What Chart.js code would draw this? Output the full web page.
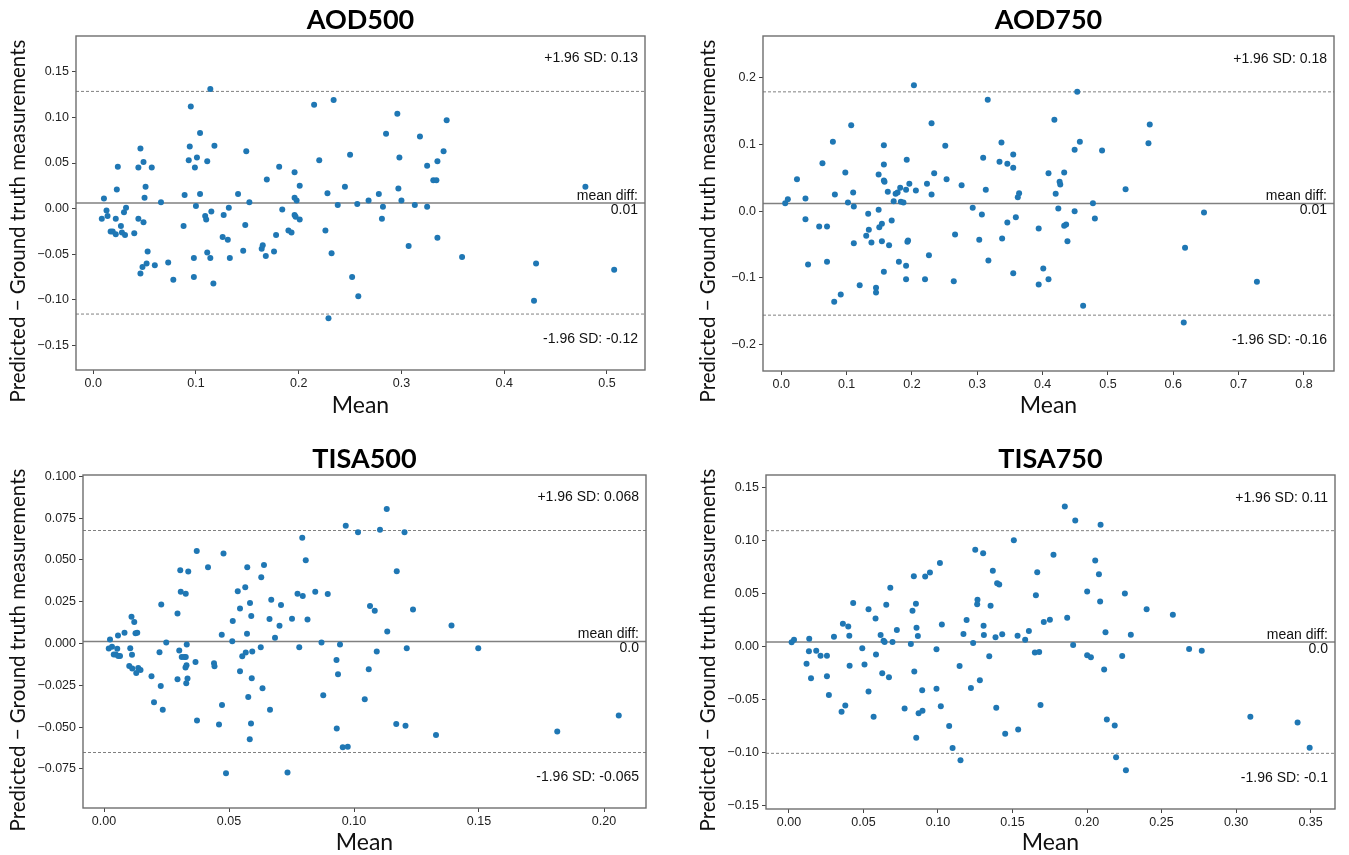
<!DOCTYPE html>
<html>
<head>
<meta charset="utf-8">
<title>Bland-Altman plots</title>
<script src="https://cdn.jsdelivr.net/npm/chart.js@4.4.1/dist/chart.umd.min.js"></script>
<style>
  html, body { margin: 0; padding: 0; background: #fff; overflow: hidden; }
  #fig { position: relative; width: 1349px; height: 855px; overflow: hidden; }
  #fig canvas { position: absolute; }
</style>
</head>
<body>
<div id="fig">
  <canvas id="aod500"></canvas>
  <canvas id="aod750"></canvas>
  <canvas id="tisa500"></canvas>
  <canvas id="tisa750"></canvas>
</div>
<script>
// ---- data ----
// AOD500
const aod500Mean = [0.0084,0.0105,0.013,0.014,0.017,0.019,0.022,0.022,0.024,0.023,
  0.027,0.028,0.030,0.031,0.032,0.040,0.044,0.044,0.046,0.049,
  0.049,0.050,0.051,0.046,0.048,0.052,0.053,0.057,0.060,0.066,
  0.073,0.078,0.088,0.089,0.093,0.094,0.095,0.098,0.098,0.099,
  0.100,0.101,0.104,0.104,0.109,0.110,0.111,0.111,0.114,0.114,
  0.115,0.117,0.118,0.126,0.127,0.131,0.132,0.133,0.141,0.146,
  0.148,0.149,0.152,0.164,0.165,0.168,0.169,0.176,0.178,0.181,
  0.184,0.190,0.193,0.196,0.196,0.196,0.197,0.198,0.201,0.201,
  0.215,0.220,0.226,0.228,0.229,0.232,0.234,0.238,0.245,0.250,
  0.252,0.257,0.258,0.268,0.278,0.281,0.282,0.285,0.296,0.297,
  0.298,0.300,0.307,0.313,0.318,0.325,0.325,0.331,0.334,0.335,
  0.335,0.341,0.344,0.359,0.429,0.431,0.479,0.507];
const aod500Diff = [-0.011,0.011,-0.002,-0.008,-0.025,-0.025,-0.011,-0.028,0.046,0.021,
  -0.019,-0.026,-0.004,-0.029,0.001,-0.027,-0.011,0.045,0.066,0.051,
  -0.015,0.012,0.024,-0.071,-0.064,-0.060,-0.047,0.045,-0.062,0.007,
  -0.059,-0.078,-0.019,0.015,0.053,0.068,0.112,-0.075,-0.054,0.045,
  0.003,0.056,0.016,0.083,-0.008,-0.012,0.052,-0.048,0.131,-0.054,
  -0.003,-0.082,0.069,-0.031,-0.007,-0.034,0.001,-0.054,0.016,-0.046,
  -0.018,0.063,0.007,-0.044,-0.040,-0.052,0.032,-0.047,-0.029,0.046,
  -0.001,-0.024,-0.026,0.040,0.012,-0.007,-0.009,0.009,-0.012,0.025,
  0.114,0.053,-0.024,0.017,-0.120,-0.049,0.119,0.004,0.024,0.059,
  -0.075,0.005,-0.096,0.009,0.016,-0.011,0.002,0.082,0.104,0.022,
  0.056,0.009,-0.041,0.004,0.079,0.047,0.002,0.031,0.031,0.052,
  -0.032,0.063,0.097,-0.053,-0.101,-0.060,0.024,-0.067];
const aod500Lines = [0.1285, 0.0062, -0.1155];      // +1.96 SD, mean diff, -1.96 SD
const aod500Texts = ['+1.96 SD: 0.13', '0.01', '-1.96 SD: -0.12'];
const aod500XTicks = [0, 0.1, 0.2, 0.3, 0.4, 0.5];
const aod500XLabels = ['0.0', '0.1', '0.2', '0.3', '0.4', '0.5'];
const aod500YTicks = [-0.15, -0.10, -0.05, 0, 0.05, 0.10, 0.15];
const aod500YLabels = ['\u22120.15', '\u22120.10', '\u22120.05', '0.00', '0.05', '0.10', '0.15'];

// AOD750
const aod750Mean = [0.006,0.010,0.024,0.037,0.037,0.041,0.058,0.063,0.070,0.070,
  0.079,0.081,0.082,0.091,0.098,0.102,0.107,0.110,0.111,0.111,
  0.120,0.133,0.134,0.130,0.138,0.145,0.145,0.149,0.149,0.150,
  0.154,0.154,0.157,0.157,0.157,0.158,0.157,0.163,0.165,0.169,
  0.172,0.175,0.178,0.180,0.182,0.183,0.187,0.191,0.191,0.191,
  0.192,0.193,0.194,0.196,0.203,0.206,0.220,0.223,0.226,0.230,
  0.230,0.234,0.251,0.253,0.264,0.266,0.276,0.293,0.303,0.307,
  0.309,0.313,0.316,0.317,0.334,0.337,0.338,0.346,0.346,0.355,
  0.355,0.355,0.359,0.362,0.364,0.394,0.394,0.401,0.409,0.409,
  0.418,0.420,0.424,0.426,0.427,0.433,0.433,0.436,0.438,0.449,
  0.449,0.453,0.457,0.462,0.477,0.480,0.491,0.527,0.562,0.564,
  0.616,0.618,0.647,0.728];
const aod750Diff = [0.012,0.018,0.048,0.019,-0.012,-0.080,-0.023,0.072,-0.023,-0.076,
  0.104,-0.136,0.025,-0.125,0.058,0.013,0.129,0.028,0.007,-0.048,
  -0.111,-0.004,-0.028,-0.037,-0.047,-0.115,-0.122,0.055,0.002,-0.024,
  -0.019,-0.045,0.099,0.070,0.046,0.044,-0.091,0.029,-0.051,-0.014,
  0.015,0.026,0.028,-0.076,0.035,0.014,0.013,-0.102,-0.082,0.032,
  0.077,-0.046,-0.044,0.041,0.189,0.031,-0.102,0.041,-0.066,0.025,
  0.132,0.057,0.098,0.048,-0.105,-0.035,0.039,0.005,-0.043,-0.005,
  0.080,0.032,0.167,-0.074,0.074,0.103,-0.041,0.071,-0.017,0.085,
  0.065,-0.093,-0.009,0.021,0.027,-0.026,-0.110,-0.086,0.057,-0.102,
  0.137,0.026,0.004,0.044,0.040,0.058,-0.022,-0.020,-0.045,0.092,
  0.000,0.179,0.104,-0.142,0.012,-0.011,0.091,0.033,0.102,0.130,
  -0.167,-0.055,-0.002,-0.106];
const aod750Lines = [0.179, 0.0115, -0.156];
const aod750Texts = ['+1.96 SD: 0.18', '0.01', '-1.96 SD: -0.16'];
const aod750XTicks = [0, 0.1, 0.2, 0.3, 0.4, 0.5, 0.6, 0.7, 0.8];
const aod750XLabels = ['0.0', '0.1', '0.2', '0.3', '0.4', '0.5', '0.6', '0.7', '0.8'];
const aod750YTicks = [-0.2, -0.1, 0, 0.1, 0.2];
const aod750YLabels = ['\u22120.2', '\u22120.1', '0.0', '0.1', '0.2'];

// TISA500
const tisa500Mean = [0.0019,0.0024,0.0032,0.0039,0.0047,0.0053,0.0056,0.0057,0.0064,0.0082,
  0.0101,0.0105,0.0110,0.0112,0.0113,0.0121,0.0126,0.0133,0.0129,0.0137,
  0.0146,0.0190,0.0200,0.0222,0.0227,0.0229,0.0235,0.0249,0.0294,0.0294,
  0.0301,0.0305,0.0307,0.0311,0.0321,0.0327,0.0327,0.0331,0.0330,0.0326,
  0.0334,0.0329,0.0337,0.0366,0.0371,0.0372,0.0416,0.0440,0.0442,0.0460,
  0.0471,0.0472,0.0478,0.0488,0.0513,0.0515,0.0535,0.0544,0.0544,0.0553,
  0.0567,0.0565,0.0572,0.0573,0.0577,0.0584,0.0589,0.0591,0.0588,0.0583,
  0.0593,0.0627,0.0629,0.0634,0.0640,0.0662,0.0664,0.0669,0.0684,0.0702,
  0.0708,0.0734,0.0752,0.0774,0.0781,0.0793,0.0795,0.0807,0.0814,0.0845,
  0.0870,0.0877,0.0895,0.0930,0.0931,0.0936,0.0944,0.0955,0.0975,0.0967,
  0.1016,0.1064,0.1083,0.1059,0.1043,0.1091,0.1104,0.1131,0.1133,0.1171,
  0.1169,0.1202,0.1206,0.1211,0.1236,0.1328,0.1390,0.1497,0.1813,0.2059];
const tisa500Diff = [-0.0030,0.0024,-0.0020,-0.0066,-0.0066,-0.0032,0.0048,-0.0074,-0.0074,0.0064,
  -0.0134,-0.0028,0.0160,-0.0068,-0.0150,0.0128,0.0062,0.0064,-0.0176,-0.0146,
  -0.0158,-0.0196,-0.0352,-0.0052,-0.0254,0.0234,-0.0396,0.0006,0.0180,-0.0214,
  -0.0042,0.0438,0.0310,-0.0080,-0.0080,0.0298,-0.0080,-0.0006,-0.0130,-0.0144,
  -0.0210,-0.0238,0.0430,-0.0110,0.0554,-0.0460,0.0456,-0.0118,-0.0136,-0.0484,
  0.0052,-0.0368,0.0538,-0.0776,0.0014,0.0134,0.0312,0.0210,-0.0166,-0.0076,
  -0.0054,0.0336,0.0058,0.0456,-0.0320,0.0242,0.0164,-0.0208,-0.0478,-0.0572,
  -0.0048,-0.0022,0.0396,-0.0268,0.0470,0.0146,-0.0396,0.0262,0.0034,0.0106,
  0.0230,-0.0772,0.0148,0.0298,-0.0022,0.0632,0.0284,0.0498,0.0144,0.0310,
  0.0006,-0.0310,0.0296,-0.0098,-0.0508,-0.0184,-0.0006,-0.0620,-0.0618,0.0704,
  0.0666,0.0224,0.0196,-0.0154,-0.0334,-0.0048,0.0680,0.0804,0.0072,0.0432,
  -0.0482,0.0666,-0.0492,-0.0028,0.0204,-0.0548,0.0108,-0.0028,-0.0526,-0.0430];
const tisa500Lines = [0.0676, 0.0012, -0.0652];
const tisa500Texts = ['+1.96 SD: 0.068', '0.0', '-1.96 SD: -0.065'];
const tisa500XTicks = [0, 0.05, 0.10, 0.15, 0.20];
const tisa500XLabels = ['0.00', '0.05', '0.10', '0.15', '0.20'];
const tisa500YTicks = [-0.075, -0.05, -0.025, 0, 0.025, 0.05, 0.075, 0.1];
const tisa500YLabels = ['\u22120.075', '\u22120.050', '\u22120.025', '0.000', '0.025', '0.050', '0.075', '0.100'];

// TISA750
const tisa750Mean = [0.0018,0.0034,0.0118,0.0134,0.0136,0.0148,0.0183,0.0212,0.0255,0.0255,
  0.0268,0.0302,0.0353,0.0362,0.0378,0.0398,0.0405,0.0407,0.0431,0.0492,
  0.0507,0.0534,0.0534,0.0568,0.0581,0.0584,0.0615,0.0635,0.0642,0.0626,
  0.0653,0.0671,0.0680,0.0695,0.0724,0.0776,0.0818,0.0829,0.0838,0.0841,
  0.0852,0.0856,0.0865,0.0854,0.0870,0.0894,0.0896,0.0914,0.0946,0.0990,
  0.0990,0.1013,0.1019,0.1026,0.1075,0.1098,0.1145,0.1151,0.1171,0.1192,
  0.1221,0.1236,0.1250,0.1263,0.1265,0.1281,0.1303,0.1306,0.1308,0.1344,
  0.1353,0.1368,0.1386,0.1391,0.1397,0.1411,0.1431,0.1451,0.1509,0.1534,
  0.1538,0.1585,0.1610,0.1650,0.1657,0.1666,0.1679,0.1688,0.1710,
  0.1751,0.1775,0.1851,0.1867,0.1907,0.1921,0.2001,0.2001,0.2026,0.2055,
  0.2080,0.2091,0.2088,0.2115,0.2124,0.2133,0.2186,0.2195,0.2236,0.2254,
  0.2261,0.2294,0.2400,0.2576,0.2685,0.2770,0.3096,0.3413,0.3494];
const tisa750Diff = [0.0041,0.0066,-0.0160,-0.0044,0.0075,-0.0298,-0.0038,-0.0085,-0.0085,-0.0279,
  -0.0455,0.0094,-0.0614,0.0216,-0.0555,0.0191,0.0103,-0.0179,0.0411,-0.0016,
  -0.0169,0.0354,-0.0423,-0.0661,0.0266,-0.0075,0.0110,0.0056,0.0044,-0.0251,
  0.0395,-0.0288,0.0555,0.0044,0.0157,-0.0583,0.0025,0.0339,0.0665,-0.0235,
  0.0404,0.0179,0.0100,-0.0859,-0.0627,-0.0411,-0.0605,0.0661,0.0699,-0.0025,
  -0.0398,0.0790,-0.0561,0.0210,-0.0749,-0.0956,-0.0182,-0.1072,0.0119,0.0251,
  -0.0389,0.0034,0.0915,0.0401,0.0442,-0.0317,0.0881,0.0197,0.0110,-0.0091,
  0.0386,0.0715,0.0088,-0.0577,0.0599,0.0586,0.0116,-0.0821,0.1003,0.0103,
  -0.0781,0.0066,0.0147,-0.0056,0.0486,0.0702,-0.0050,-0.0549,0.0232,
  0.0254,0.0868,0.1323,0.0273,0.0016,0.1191,0.0520,-0.0082,-0.0100,0.0812,
  0.0683,0.1150,0.0426,-0.0216,0.0135,-0.0687,-0.0743,-0.1044,-0.0088,0.0502,
  -0.1166,0.0113,0.0354,0.0301,-0.0022,-0.0038,-0.0661,-0.0715,-0.0953];
const tisa750Lines = [0.1094, 0.0044, -0.1006];
const tisa750Texts = ['+1.96 SD: 0.11', '0.0', '-1.96 SD: -0.1'];
const tisa750XTicks = [0, 0.05, 0.10, 0.15, 0.20, 0.25, 0.30, 0.35];
const tisa750XLabels = ['0.00', '0.05', '0.10', '0.15', '0.20', '0.25', '0.30', '0.35'];
const tisa750YTicks = [-0.15, -0.10, -0.05, 0, 0.05, 0.10, 0.15];
const tisa750YLabels = ['\u22120.15', '\u22120.10', '\u22120.05', '0.00', '0.05', '0.10', '0.15'];

// ---- drawing ----
const tickFont = { family: '"Liberation Sans", Arial, sans-serif', size: 12.5 };
const xTitleSize = 23;
const yTitleText = 'Predicted \u2212 Ground truth measurements';

function blandAltman(id, p) {
  const canvas = document.getElementById(id);
  const [cx, cy, cw, ch] = p.box;          // canvas position on the page
  const [L, R, T, B] = p.plot;             // wanted plot area on the page
  canvas.width = cw; canvas.height = ch;
  canvas.style.left = cx + 'px'; canvas.style.top = cy + 'px';

  const points = p.x.map((v, i) => ({ x: v, y: p.y[i] }));
  const hline = (v) => [{ x: p.xRange[0], y: v }, { x: p.xRange[1], y: v }];
  const limitLine = (v, dash, w) => ({
    type: 'line', data: hline(v), borderColor: '#808080', borderWidth: w,
    borderDash: dash, pointRadius: 0, order: 1
  });

  // frame round the plot, panel title, y title and the annotation texts
  const extras = {
    id: 'extras',
    afterDatasetsDraw(chart) {
      const a = chart.chartArea, ctx = chart.ctx, ys = chart.scales.y;
      ctx.save();
      ctx.strokeStyle = '#6e6e6e';
      ctx.lineWidth = 1.4;
      ctx.strokeRect(a.left, a.top, a.right - a.left, a.bottom - a.top);

      ctx.fillStyle = '#000';
      ctx.font = 'bold 27px Lato, sans-serif';
      ctx.textAlign = 'center';
      ctx.textBaseline = 'alphabetic';
      ctx.fillText(p.title, (a.left + a.right) / 2, p.titleBase - cy);

      // rotated y title, placed a bit lower than the plot centre as in the picture
      ctx.save();
      ctx.translate(p.yTitleX - cx, p.yTitleY - cy);
      ctx.rotate(-Math.PI / 2);
      ctx.fillStyle = '#111';
      ctx.font = '20.5px Lato, sans-serif';
      ctx.textBaseline = 'middle';
      ctx.fillText(yTitleText, 0, 0);
      ctx.restore();

      ctx.fillStyle = '#111';
      ctx.font = '14px "Liberation Sans", Arial, sans-serif';
      ctx.textAlign = 'right';
      ctx.textBaseline = 'middle';
      const rx = a.right - 7;
      ctx.fillText(p.texts[0], rx, ys.getPixelForValue(p.lines[0]) - 33);
      ctx.fillText('mean diff:', rx, ys.getPixelForValue(p.lines[1]) - 7);
      ctx.fillText(p.texts[1], rx, ys.getPixelForValue(p.lines[1]) + 7);
      ctx.fillText(p.texts[2], rx, ys.getPixelForValue(p.lines[2]) + 25);
      ctx.restore();
    }
  };

  new Chart(canvas, {
    type: 'scatter',
    data: {
      datasets: [
        { data: points, backgroundColor: '#1f77b4', borderWidth: 0, pointRadius: 3, order: 0 },
        limitLine(p.lines[0], [3, 2], 1),
        limitLine(p.lines[1], [], 1.3),
        limitLine(p.lines[2], [3, 2], 1)
      ]
    },
    options: {
      responsive: false,
      animation: false,
      layout: { padding: { left: 0, top: T - cy, right: cx + cw - R, bottom: 0 } },
      plugins: { legend: { display: false }, tooltip: { enabled: false } },
      scales: {
        x: {
          type: 'linear', min: p.xRange[0], max: p.xRange[1],
          afterFit: (s) => { s.height = cy + ch - B; },
          afterBuildTicks: (s) => { s.ticks = p.xTicks.map(v => ({ value: v })); },
          ticks: { callback: (v, i) => p.xLabels[i], font: tickFont, color: '#222',
                   padding: 2, maxRotation: 0, autoSkip: false },
          grid: { drawOnChartArea: false, drawTicks: true, tickLength: 4, tickColor: '#444' },
          border: { display: false },
          title: { display: true, text: 'Mean', color: '#111',
                   font: { family: 'Lato, sans-serif', size: xTitleSize },
                   padding: { top: 0, bottom: cy + ch - p.xTitleY - xTitleSize * 0.6 } }
        },
        y: {
          type: 'linear', min: p.yRange[0], max: p.yRange[1],
          afterFit: (s) => { s.width = L - cx; },
          afterBuildTicks: (s) => { s.ticks = p.yTicks.map(v => ({ value: v })); },
          ticks: { callback: (v, i) => p.yLabels[i], font: tickFont, color: '#222',
                   padding: 3, autoSkip: false },
          grid: { drawOnChartArea: false, drawTicks: true, tickLength: 4, tickColor: '#444' },
          border: { display: false }
        }
      }
    },
    plugins: [extras]
  });
}

blandAltman('aod500', {
  title: 'AOD500', x: aod500Mean, y: aod500Diff, lines: aod500Lines, texts: aod500Texts,
  xTicks: aod500XTicks, xLabels: aod500XLabels, yTicks: aod500YTicks, yLabels: aod500YLabels,
  xRange: [-0.0167, 0.537], yRange: [-0.1768, 0.1892],
  box: [0, 0, 674, 428], plot: [76, 645, 36, 370],
  yTitleX: 18, yTitleY: 221, xTitleY: 406, titleBase: 29
});
blandAltman('aod750', {
  title: 'AOD750', x: aod750Mean, y: aod750Diff, lines: aod750Lines, texts: aod750Texts,
  xTicks: aod750XTicks, xLabels: aod750XLabels, yTicks: aod750YTicks, yLabels: aod750YLabels,
  xRange: [-0.028, 0.846], yRange: [-0.2398, 0.2628],
  box: [674, 0, 675, 428], plot: [763, 1334, 36, 371],
  yTitleX: 708, yTitleY: 221, xTitleY: 406, titleBase: 29
});
blandAltman('tisa500', {
  title: 'TISA500', x: tisa500Mean, y: tisa500Diff, lines: tisa500Lines, texts: tisa500Texts,
  xTicks: tisa500XTicks, xLabels: tisa500XLabels, yTicks: tisa500YTicks, yLabels: tisa500YLabels,
  xRange: [-0.0084, 0.2168], yRange: [-0.0984, 0.1008],
  box: [0, 428, 674, 440], plot: [83, 646, 475, 808],
  yTitleX: 18, yTitleY: 650, xTitleY: 843, titleBase: 468
});
blandAltman('tisa750', {
  title: 'TISA750', x: tisa750Mean, y: tisa750Diff, lines: tisa750Lines, texts: tisa750Texts,
  xTicks: tisa750XTicks, xLabels: tisa750XLabels, yTicks: tisa750YTicks, yLabels: tisa750YLabels,
  xRange: [-0.0154, 0.3664], yRange: [-0.1531, 0.1619],
  box: [674, 428, 675, 440], plot: [766, 1335, 475, 809],
  yTitleX: 708, yTitleY: 650, xTitleY: 843, titleBase: 468
});
</script>
</body>
</html>
